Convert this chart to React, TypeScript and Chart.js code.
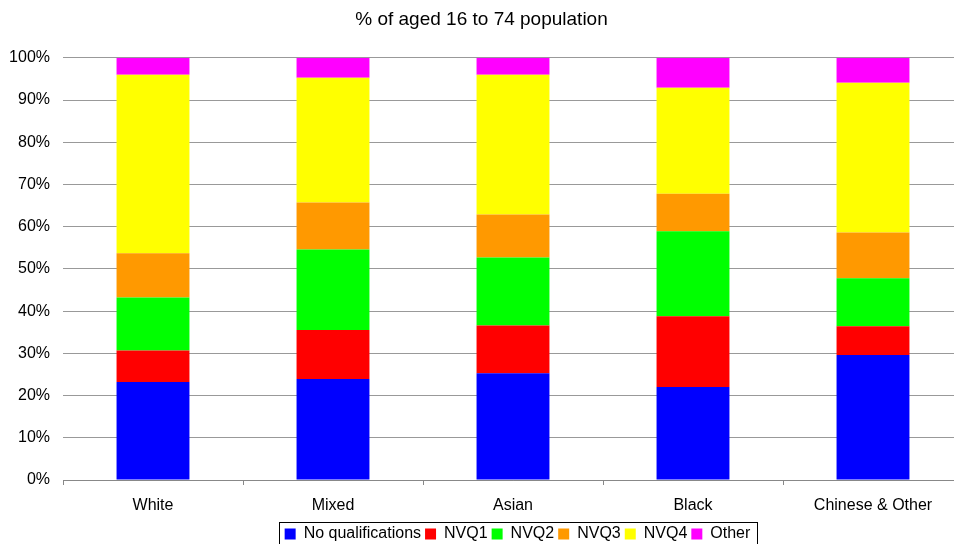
import React, { useEffect, useRef } from "react";
import { Chart, registerables } from "chart.js";

Chart.register(...registerables);

const categories = ["White", "Mixed", "Asian", "Black", "Chinese & Other"];
const seriesNames = ["No qualifications", "NVQ1", "NVQ2", "NVQ3", "NVQ4", "Other"];
const noQualifications = [23.2, 23.9, 25.3, 22.0, 29.6];
const nvq1 = [7.5, 11.6, 11.3, 16.8, 6.8];
const nvq2 = [12.5, 19.1, 16.1, 20.1, 11.4];
const nvq3 = [10.5, 11.1, 10.2, 8.9, 10.8];
const nvq4 = [42.3, 29.6, 33.1, 25.1, 35.5];
const other = [4.0, 4.7, 4.0, 7.1, 5.9];
const seriesColors = ["#0000FF", "#FF0000", "#00FF00", "#FF9900", "#FFFF00", "#FF00FF"];
const titleText = "% of aged 16 to 74 population";

const FONT = "'Liberation Sans', Arial, Helvetica, sans-serif";
const LEGEND_SHIFT = 36;

const legendBorder = {
  id: "legendBorder",
  afterLayout(chart: any) {
    const lg = chart.legend;
    if (!lg) return;
    lg.left += LEGEND_SHIFT;
    lg.right += LEGEND_SHIFT;
    if (lg.legendHitBoxes) lg.legendHitBoxes.forEach((b: any) => { b.left += LEGEND_SHIFT; });
  },
  afterDraw(chart: any) {
    const lg = chart.legend;
    if (!lg || !lg.legendHitBoxes || !lg.legendHitBoxes.length) return;
    const boxes = lg.legendHitBoxes;
    let l = Infinity, r = -Infinity;
    for (const b of boxes) {
      l = Math.min(l, b.left);
      r = Math.max(r, b.left + b.width);
    }
    const b0 = boxes[0];
    const cy = b0.top + b0.height / 2;
    const ctx = chart.ctx;
    ctx.save();
    ctx.strokeStyle = "#000";
    ctx.lineWidth = 1;
    ctx.strokeRect(Math.round(l - 6) + 0.5, Math.round(cy - 12) + 0.5, Math.round(r - l + 12), 40);
    ctx.restore();
  },
};

export default function App() {
  const ref = useRef<HTMLCanvasElement | null>(null);
  useEffect(() => {
    if (!ref.current) return;
    const all = [noQualifications, nvq1, nvq2, nvq3, nvq4, other];
    const chart = new Chart(ref.current, {
      type: "bar",
      data: {
        labels: categories,
        datasets: all.map((d, i) => ({
          label: seriesNames[i],
          data: d,
          backgroundColor: seriesColors[i],
          borderWidth: 0,
          categoryPercentage: 1,
          barPercentage: 0.405,
        })),
      },
      options: {
        responsive: false,
        animation: false,
        layout: { padding: 0 },
        plugins: {
          tooltip: { enabled: false },
          title: {
            display: true,
            text: titleText,
            color: "#000",
            font: { family: FONT, size: 19, weight: "normal" },
            padding: { top: 8, bottom: 27 },
          },
          legend: {
            position: "bottom",
            labels: {
              color: "#000",
              font: { family: FONT, size: 16 },
              boxWidth: 11,
              boxHeight: 11,
              padding: 4,
            },
          },
        },
        scales: {
          x: {
            stacked: true,
            afterFit: (s: any) => { s.height = 42; },
            grid: { display: true, drawOnChartArea: false, drawTicks: true, tickLength: 5, color: "#888", offset: true },
            border: { display: true, color: "#888" },
            ticks: { color: "#000", font: { family: FONT, size: 16 }, padding: 11, maxRotation: 0 },
          },
          y: {
            stacked: true,
            min: 0,
            max: 100,
            afterFit: (s: any) => { s.width = 63; },
            ticks: {
              stepSize: 10,
              color: "#000",
              font: { family: FONT, size: 16 },
              padding: 13,
              callback: (v: any) => v + "%",
            },
            grid: { color: "#999", drawTicks: false },
            border: { display: false },
          },
        },
      },
      plugins: [legendBorder],
    });
    return () => chart.destroy();
  }, []);
  return (
    <div style={{ position: "fixed", left: 0, top: 0, width: 954, height: 544, overflow: "hidden", background: "#fff" }}>
      <canvas ref={ref} width={963} height={552} style={{ width: 963, height: 552, display: "block" }} />
    </div>
  );
}
